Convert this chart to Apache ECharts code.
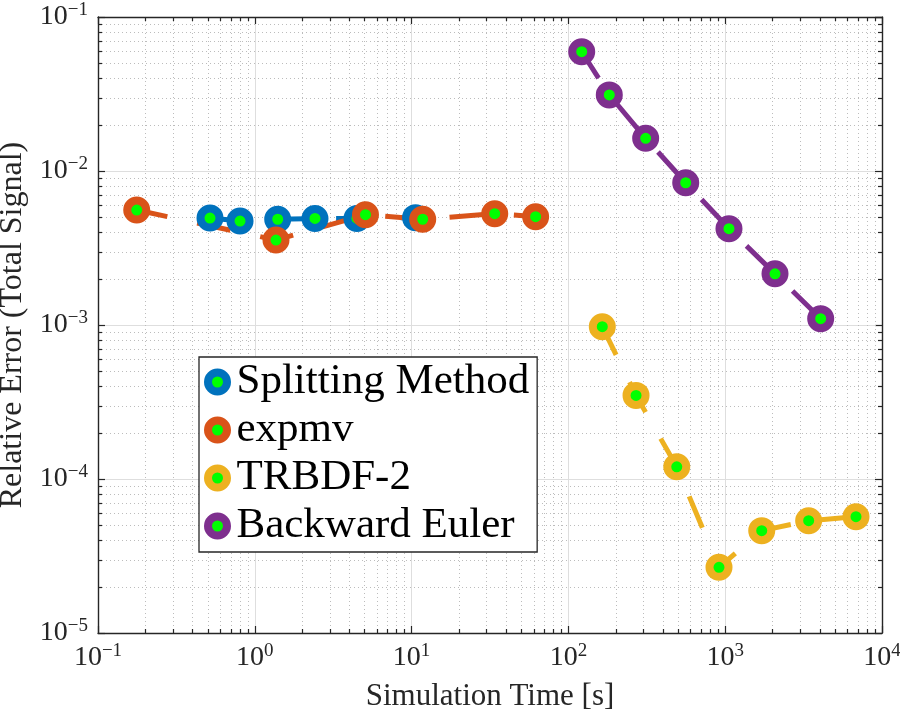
<!DOCTYPE html>
<html>
<head>
<meta charset="utf-8">
<script src="https://cdn.jsdelivr.net/npm/echarts@6/dist/echarts.min.js"></script>
<style>
html,body{margin:0;padding:0;background:#fff;}
#chart{width:900px;height:709px;}
</style>
</head>
<body>
<div id="chart"></div>
<script>
// ---- data ----
const seriesNames = ['Splitting Method', 'expmv', 'TRBDF-2', 'Backward Euler'];
const seriesColors = ['#0072BD', '#D95319', '#EDB120', '#7E2F8E'];

const splitX = [0.518, 0.805, 1.40, 2.42, 4.48, 10.6];
const splitY = [0.00495, 0.00473, 0.00486, 0.00492, 0.00492, 0.00498];

const expmvX = [0.1766, 1.365, 5.08, 11.77, 33.9, 61.8];
const expmvY = [0.00558, 0.00356, 0.00520, 0.00486, 0.00528, 0.00505];

const trbdfX = [164.5, 270, 491, 913, 1710, 3406, 6826];
const trbdfY = [9.75e-4, 3.49e-4, 1.20e-4, 2.67e-5, 4.62e-5, 5.36e-5, 5.69e-5];

const beX = [121.6, 182.3, 311, 560, 1057, 2078, 4064];
const beY = [0.0595, 0.0312, 0.0163, 0.00839, 0.00422, 0.00215, 0.00110];

// tick labels: decades shown as 10^k
const xTickExponents = [-1, 0, 1, 2, 3, 4];
const yTickExponents = [-5, -4, -3, -2, -1];

// ---- helpers ----
const FONT = '"Liberation Serif", "DejaVu Serif", serif';
const TXT = '#262626';
function pairs(xs, ys) { return xs.map((x, i) => [x, ys[i]]); }
function expLabel(v, list) {
  const e = Math.round(Math.log10(v));
  if (list.indexOf(e) < 0) return '';
  const s = e < 0 ? '\u2212' + Math.abs(e) : String(e);
  return '{b|10}{s|' + s + '}';
}
const richLabel = {
  b: { fontFamily: FONT, fontSize: 28, color: TXT, lineHeight: 32 },
  s: { fontFamily: FONT, fontSize: 19, color: TXT, verticalAlign: 'top', lineHeight: 32, padding: [0, 0, 14, 0] }
};

// minor grid positions (2..9 x 10^k)
const gridData = [];
for (let k = xTickExponents[0]; k < xTickExponents[xTickExponents.length - 1]; k++) {
  for (let m = 2; m <= 9; m++) gridData.push([m * Math.pow(10, k), 1e-3, 0]);
}
for (let k = yTickExponents[0]; k < yTickExponents[yTickExponents.length - 1]; k++) {
  for (let m = 2; m <= 9; m++) gridData.push([1, m * Math.pow(10, k), 1]);
}

function gridRender(params, api) {
  const cs = params.coordSys;
  const kind = api.value(2);
  const dot = { stroke: '#bcbcbc', lineWidth: 1, lineDash: [1, 3] };
  const tk = { stroke: TXT, lineWidth: 1.2 };
  if (kind === 0) {
    const x = Math.round(api.coord([api.value(0), 1e-3])[0]) + 0.5;
    const y0 = cs.y, y1 = cs.y + cs.height;
    return { type: 'group', children: [
      { type: 'line', shape: { x1: x, y1: y0, x2: x, y2: y1 }, style: dot },
      { type: 'line', shape: { x1: x, y1: y1, x2: x, y2: y1 - 4 }, style: tk },
      { type: 'line', shape: { x1: x, y1: y0, x2: x, y2: y0 + 4 }, style: tk }
    ]};
  } else {
    const y = Math.round(api.coord([1, api.value(1)])[1]) + 0.5;
    const x0 = cs.x, x1 = cs.x + cs.width;
    return { type: 'group', children: [
      { type: 'line', shape: { x1: x0, y1: y, x2: x1, y2: y }, style: dot },
      { type: 'line', shape: { x1: x0, y1: y, x2: x0 + 4, y2: y }, style: tk },
      { type: 'line', shape: { x1: x1, y1: y, x2: x1 - 4, y2: y }, style: tk }
    ]};
  }
}

const allData = [pairs(splitX, splitY), pairs(expmvX, expmvY), pairs(trbdfX, trbdfY), pairs(beX, beY)];

const lineSeries = seriesNames.map((name, i) => ({
  name: name,
  type: 'line',
  data: allData[i],
  xAxisIndex: 0, yAxisIndex: 0,
  symbol: 'circle',
  symbolSize: 19,
  showAllSymbol: true,
  itemStyle: { color: '#00ff00', borderColor: seriesColors[i], borderWidth: 8 },
  lineStyle: { color: seriesColors[i], width: 5, type: [34, 30.5], dashOffset: 2.7 },
  emphasis: { disabled: true },
  z: 3
}));

const axisCommon = {
  type: 'log', logBase: 10,
  axisLine: { show: true, onZero: false, lineStyle: { color: TXT, width: 1.4 } },
  axisTick: { show: true, inside: true, length: 7, lineStyle: { color: TXT, width: 1.2 } },
  minorTick: { show: false },
  splitLine: { show: false }
};

const option = {
  animation: false,
  backgroundColor: '#ffffff',
  grid: { left: 98, right: 18, top: 17, bottom: 76, containLabel: false, outerBoundsMode: 'none' },
  xAxis: [
    Object.assign({}, axisCommon, {
      position: 'bottom', min: 0.1, max: 10000,
      axisLabel: { formatter: v => expLabel(v, xTickExponents), rich: richLabel, margin: 9 },
      splitLine: { show: true, lineStyle: { color: '#dedede', width: 1 } },
      name: 'Simulation Time [s]', nameLocation: 'middle', nameGap: 48,
      nameTextStyle: { fontFamily: FONT, fontSize: 31, color: TXT }
    }),
    Object.assign({}, axisCommon, {
      position: 'top', min: 0.1, max: 10000,
      axisLabel: { show: false }
    })
  ],
  yAxis: [
    Object.assign({}, axisCommon, {
      position: 'left', min: 1e-5, max: 1e-1,
      axisLabel: { formatter: v => expLabel(v, yTickExponents), rich: richLabel, margin: 10 },
      splitLine: { show: true, lineStyle: { color: '#dedede', width: 1 } },
      name: 'Relative Error (Total Signal)', nameLocation: 'middle', nameGap: 61,
      nameTextStyle: { fontFamily: FONT, fontSize: 32, color: TXT }
    }),
    Object.assign({}, axisCommon, {
      position: 'right', min: 1e-5, max: 1e-1,
      axisLabel: { show: false }
    })
  ],
  legend: {
    show: true,
    orient: 'vertical',
    left: 199, top: 357,
    backgroundColor: '#ffffff',
    borderColor: TXT, borderWidth: 1.3,
    padding: [1, 8, 2, 5],
    icon: 'circle',
    itemWidth: 28, itemHeight: 19,
    itemGap: 0,
    selectedMode: false,
    textStyle: { fontFamily: FONT, fontSize: 43, color: '#000', lineHeight: 48 },
    data: seriesNames.map((n, i) => ({
      name: n,
      itemStyle: { color: '#00ff00', borderColor: seriesColors[i], borderWidth: 8 }
    }))
  },
  series: [
    {
      type: 'custom', name: 'grid', data: gridData,
      xAxisIndex: 0, yAxisIndex: 0,
      encode: { x: 0, y: 1 },
      renderItem: gridRender, silent: true, clip: false, z: 1
    }
  ].concat(lineSeries)
};

const chart = echarts.init(document.getElementById('chart'), null, { renderer: 'canvas' });
chart.setOption(option);
</script>
</body>
</html>
